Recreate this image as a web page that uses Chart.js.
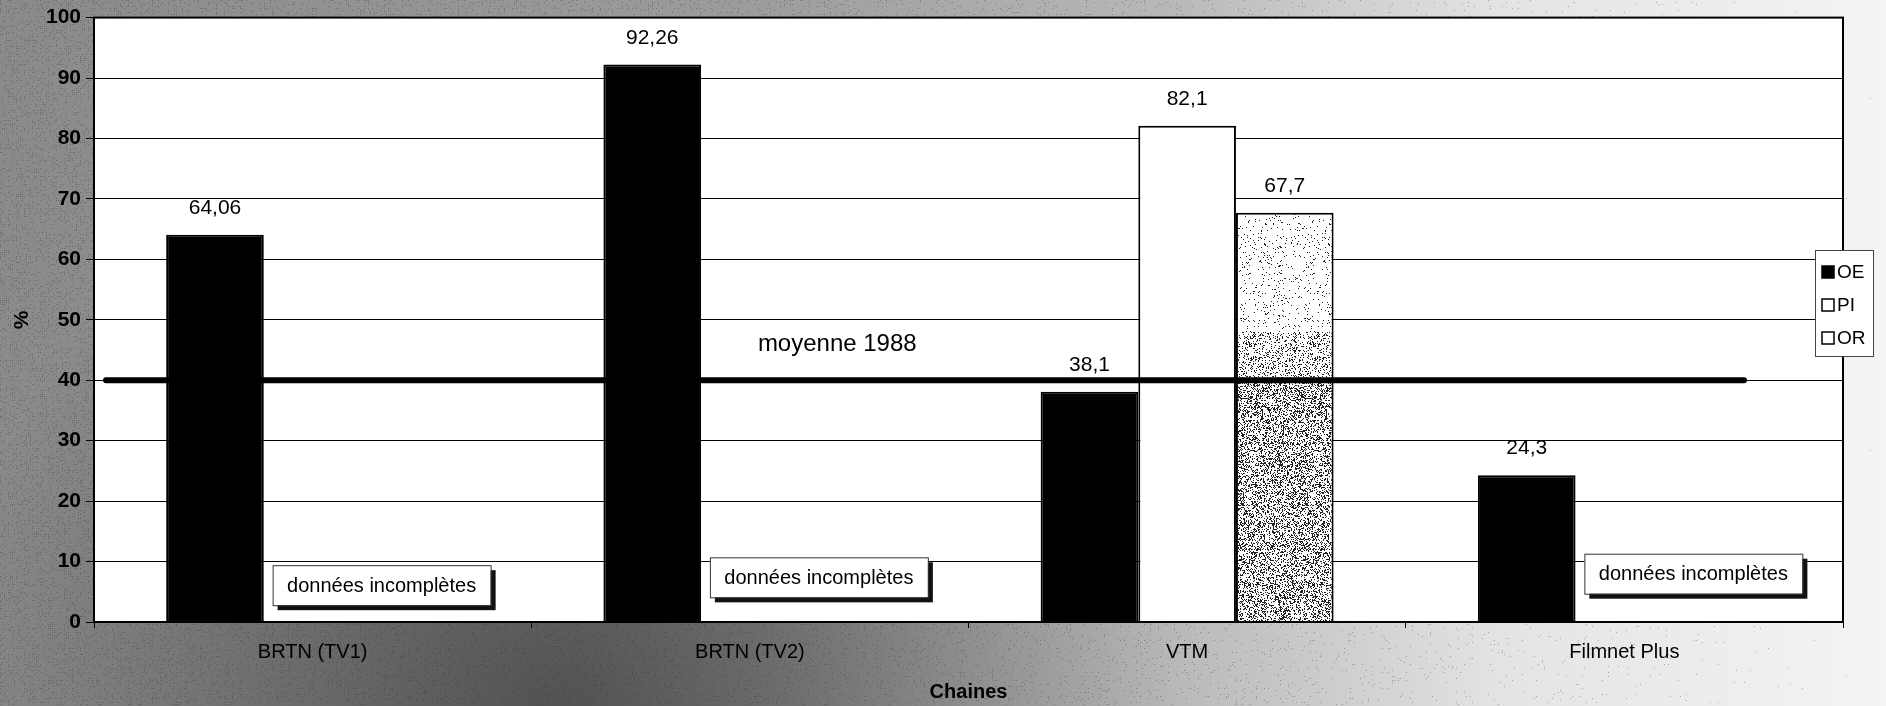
<!DOCTYPE html>
<html>
<head>
<meta charset="utf-8">
<script src="https://cdn.jsdelivr.net/npm/chart.js@4/dist/chart.umd.min.js"></script>
<style>
  html, body { margin: 0; padding: 0; background: #fff; }
  #wrap { width: 1886px; height: 706px; }
</style>
</head>
<body>
<div id="wrap"><canvas id="chart" width="1886" height="706"></canvas></div>
<script>
// data
const categories = ["BRTN (TV1)", "BRTN (TV2)", "VTM", "Filmnet Plus"];
const seriesNames = ["OE", "PI", "OR"];
const oeValues = [64.06, 92.26, 38.1, 24.3];
const piValues = [null, null, 82.1, null];
const orValues = [null, null, 67.7, null];
const yTickMin = 0;
const yTickMax = 100;
const yTickStep = 10;
const averageValue = 40;
const averageLabel = "moyenne 1988";
const noteText = "données incomplètes";
const noteCategories = [0, 1, 3];

const FONT = "'Liberation Sans', Arial, sans-serif";

function fmt(v) {
  return String(v).replace(".", ",");
}

// cheap deterministic hash for the scan-like speckle
function hash(x, y) {
  let h = Math.sin(x * 127.1 + y * 311.7) * 43758.5453;
  return h - Math.floor(h);
}

let speckle = null;
function orFill(ctx) {
  let chart = ctx.chart;
  let y = chart.scales.y;
  if (!chart.chartArea || !y) return "#ddd";
  if (speckle) return speckle;
  let c = document.createElement("canvas");
  c.width = 64;
  c.height = chart.height;
  let g = c.getContext("2d");
  g.fillStyle = "#fff";
  g.fillRect(0, 0, c.width, c.height);
  g.fillStyle = "#222";
  for (let py = 0; py < c.height; py++) {
    let v = y.getValueForPixel(py);
    let d = v > 48 ? 0.05 : (v > averageValue ? 0.2 : 0.33);
    for (let px = 0; px < c.width; px++) {
      if (hash(px, py) < d) g.fillRect(px, py, 1, 1);
    }
  }
  speckle = chart.ctx.createPattern(c, "repeat");
  return speckle;
}

// page + plot background, plot border
const backdrop = {
  id: "backdrop",
  beforeDraw(chart) {
    let ctx = chart.ctx;
    let a = chart.chartArea;
    ctx.save();
    let lg = ctx.createLinearGradient(0, 0, chart.width, 0);
    lg.addColorStop(0, "#8a8a8a");
    lg.addColorStop(0.4, "#9c9c9c");
    lg.addColorStop(0.62, "#b8b8b8");
    lg.addColorStop(0.8, "#e4e4e4");
    lg.addColorStop(1, "#f4f4f4");
    ctx.fillStyle = lg;
    ctx.fillRect(0, 0, chart.width, chart.height);
    let rg = ctx.createRadialGradient(560, 720, 20, 560, 720, 620);
    rg.addColorStop(0, "rgba(60,60,60,0.75)");
    rg.addColorStop(1, "rgba(60,60,60,0)");
    ctx.fillStyle = rg;
    ctx.fillRect(0, 0, chart.width, chart.height);
    ctx.fillStyle = "rgba(40,40,40,0.35)";
    for (let yy = 0; yy < chart.height; yy += 2) {
      for (let xx = 0; xx < chart.width; xx += 2) {
        let d = 0.3 * Math.pow(1 - xx / chart.width, 1.3);
        if (hash(xx, yy) < d) ctx.fillRect(xx, yy, 1, 1);
      }
    }
    ctx.fillStyle = "#fff";
    ctx.fillRect(a.left, a.top, a.right - a.left, a.bottom - a.top);
    ctx.restore();
  },
  afterDraw(chart) {
    let ctx = chart.ctx;
    let a = chart.chartArea;
    ctx.save();
    ctx.strokeStyle = "#000";
    ctx.lineWidth = 2;
    ctx.strokeRect(a.left, a.top, a.right - a.left, a.bottom - a.top);
    ctx.restore();
  }
};

// value labels, average line, notes
const extras = {
  id: "extras",
  afterDatasetsDraw(chart) {
    let ctx = chart.ctx;
    let a = chart.chartArea;
    let x = chart.scales.x;
    let y = chart.scales.y;
    ctx.save();

    ctx.fillStyle = "#000";
    ctx.font = "21px " + FONT;
    ctx.textAlign = "center";
    ctx.textBaseline = "bottom";
    chart.data.datasets.forEach(function (ds, i) {
      let meta = chart.getDatasetMeta(i);
      meta.data.forEach(function (bar, j) {
        let v = ds.data[j];
        if (v === null || v === undefined) return;
        ctx.fillText(fmt(v), bar.x, bar.y - 16);
      });
    });

    // average line
    let ay = y.getPixelForValue(averageValue);
    ctx.strokeStyle = "#000";
    ctx.lineWidth = 6;
    ctx.lineCap = "round";
    ctx.beginPath();
    ctx.moveTo(a.left + 12, ay);
    ctx.lineTo(a.right - 99, ay);
    ctx.stroke();
    ctx.font = "24px " + FONT;
    ctx.textAlign = "left";
    ctx.textBaseline = "middle";
    ctx.fillText(averageLabel, x.getPixelForValue(1) + 8, ay - 36);

    // "données incomplètes" boxes
    let tops = [9.4, 10.7, 11.3];
    noteCategories.forEach(function (ci, k) {
      let bx = x.getPixelForValue(ci) - 40;
      let by = y.getPixelForValue(tops[k]);
      let w = 218, h = 40;
      ctx.fillStyle = "#111";
      ctx.fillRect(bx + 5, by + 5, w, h);
      ctx.fillStyle = "#fff";
      ctx.fillRect(bx, by, w, h);
      ctx.strokeStyle = "#333";
      ctx.lineWidth = 1;
      ctx.strokeRect(bx + 0.5, by + 0.5, w, h);
      ctx.fillStyle = "#000";
      ctx.font = "20px " + FONT;
      ctx.textAlign = "center";
      ctx.fillText(noteText, bx + w / 2, by + h / 2 + 1);
    });
    ctx.restore();
  },
  afterDraw(chart) {
    // legend box overlapping the right border
    let ctx = chart.ctx;
    let a = chart.chartArea;
    let lx = a.right - 28, ly = 250, lw = 58, lh = 106;
    ctx.save();
    ctx.fillStyle = "#fff";
    ctx.fillRect(lx, ly, lw, lh);
    ctx.strokeStyle = "#444";
    ctx.lineWidth = 1;
    ctx.strokeRect(lx + 0.5, ly + 0.5, lw, lh);
    ctx.font = "19px " + FONT;
    ctx.textBaseline = "middle";
    ctx.textAlign = "left";
    chart.data.datasets.forEach(function (ds, i) {
      let cy = ly + 22 + i * 33;
      ctx.fillStyle = i === 0 ? "#000" : "#fff";
      ctx.fillRect(lx + 7, cy - 6, 12, 12);
      ctx.strokeStyle = "#000";
      ctx.lineWidth = 1.5;
      ctx.strokeRect(lx + 7, cy - 6, 12, 12);
      ctx.fillStyle = "#000";
      ctx.fillText(ds.label, lx + 22, cy + 1);
    });
    ctx.restore();
  }
};

let ctx = document.getElementById("chart").getContext("2d");
let myChart = new Chart(ctx, {
  type: "bar",
  data: {
    labels: categories,
    datasets: [
      {
        label: seriesNames[0],
        data: oeValues,
        backgroundColor: "#000",
        borderColor: "#000",
        borderWidth: 2
      },
      {
        label: seriesNames[1],
        data: piValues,
        backgroundColor: "#fff",
        borderColor: "#000",
        borderWidth: 2
      },
      {
        label: seriesNames[2],
        data: orValues,
        backgroundColor: orFill,
        borderColor: "#000",
        borderWidth: 2
      }
    ]
  },
  options: {
    responsive: false,
    animation: false,
    layout: { padding: { top: 13, right: 43, left: 0, bottom: 0 } },
    datasets: {
      bar: { barPercentage: 1, categoryPercentage: 0.67 }
    },
    plugins: {
      legend: { display: false },
      tooltip: { enabled: false }
    },
    scales: {
      x: {
        grid: {
          offset: true,
          drawOnChartArea: false,
          drawTicks: true,
          tickLength: 6,
          color: "#000"
        },
        border: { color: "#000", width: 2 },
        ticks: {
          color: "#000",
          padding: 12,
          font: { family: FONT, size: 20 }
        },
        title: {
          display: true,
          text: "Chaines",
          color: "#000",
          padding: { top: 0, bottom: 2 },
          font: { family: FONT, size: 20, weight: "bold" }
        },
        afterFit(scale) { scale.height = 84; }
      },
      y: {
        min: yTickMin,
        max: yTickMax,
        grid: { color: "#000", lineWidth: 1, tickLength: 8 },
        border: { color: "#000", width: 2 },
        ticks: {
          stepSize: yTickStep,
          color: "#000",
          padding: 5,
          font: { family: FONT, size: 21, weight: "bold" }
        },
        title: {
          display: true,
          text: "%",
          color: "#000",
          padding: { top: 10, bottom: 0 },
          font: { family: FONT, size: 21, weight: "bold" }
        },
        afterFit(scale) { scale.width = 94; }
      }
    }
  },
  plugins: [backdrop, extras]
});
</script>
</body>
</html>
